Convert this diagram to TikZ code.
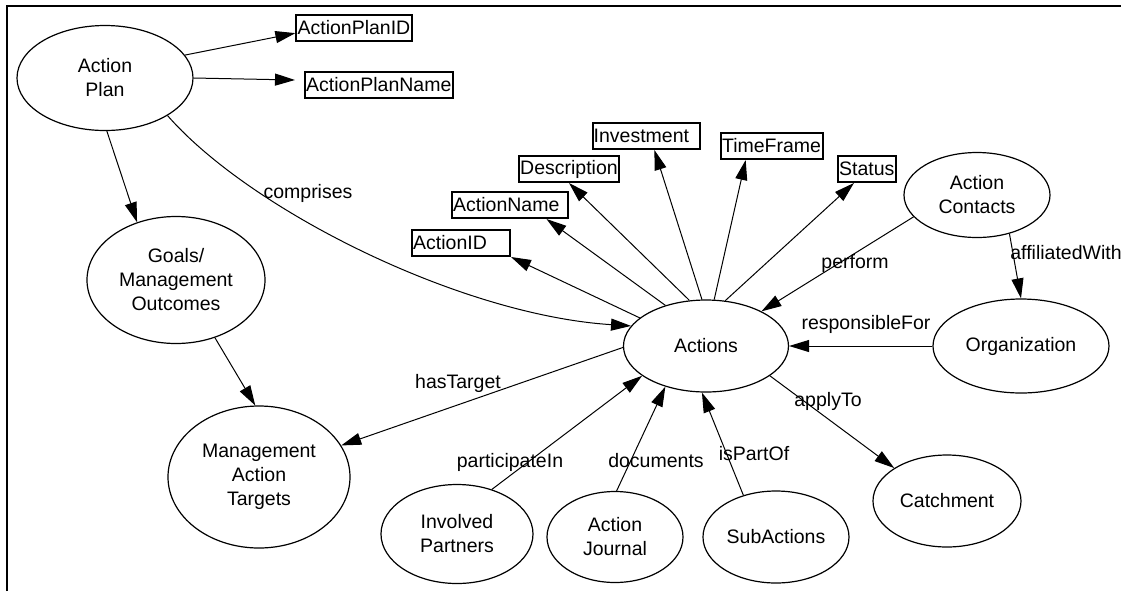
\documentclass[tikz,border=0pt]{standalone}
\usepackage{fontspec}
\setmainfont{Liberation Sans}
\usetikzlibrary{arrows.meta,shapes.geometric}

\begin{document}
\begin{tikzpicture}[x=0.5pt,y=-0.5pt,
	every node/.style={font=\fontsize{9.75}{12}\selectfont},
	cls/.style={draw,ellipse,line width=0.6pt,inner sep=0pt,align=center},
	prop/.style={draw,rectangle,line width=1pt,inner xsep=0.6pt,inner ysep=1pt,minimum height=13pt,align=left},
	lbl/.style={inner sep=0pt},
	edge/.style={line width=0.5pt,-{Triangle[length=10pt,width=6pt]}}]
	\useasboundingbox (0,0) rectangle (1121,591);

	%ramka
	\draw[line width=1pt] (7,591) -- (7,5.5) -- (1121,5.5);

	%klasy
	\node[cls,minimum width=88pt,minimum height=52.5pt] (ap) at (105,78) {Action\\Plan};
	\node[cls,minimum width=89pt,minimum height=63.5pt] (goals) at (176,280) {Goals/\\Management\\Outcomes};
	\node[cls,minimum width=91pt,minimum height=71pt] (mat) at (259,477) {Management\\Action\\Targets};
	\node[cls,minimum width=82.5pt,minimum height=46pt] (act) at (706,346) {Actions};
	\node[cls,minimum width=73pt,minimum height=42.5pt] (ac) at (977,195) {Action\\Contacts};
	\node[cls,minimum width=88pt,minimum height=47pt] (org) at (1021,346) {Organization};
	\node[cls,minimum width=74pt,minimum height=46pt] (catch) at (947,501) {Catchment};
	\node[cls,minimum width=76pt,minimum height=49.5pt] (ip) at (457,534) {Involved\\Partners};
	\node[cls,minimum width=68pt,minimum height=45.5pt] (aj) at (615,537) {Action\\Journal};
	\node[cls,minimum width=73pt,minimum height=46pt] (sub) at (776,537) {SubActions};

	%atrybuty
	\node[prop,text width=56.4pt] (apid) at (354,28) {ActionPlanID};
	\node[prop,text width=72.8pt] (apn) at (379,85) {ActionPlanName};
	\node[prop,text width=47.8pt] (aid) at (461,243) {ActionID};
	\node[prop,text width=56.8pt] (aname) at (510,205) {ActionName};
	\node[prop,text width=48.8pt] (desc) at (569,169) {Description};
	\node[prop,text width=52.3pt] (inv) at (646,136) {Investment};
	\node[prop,text width=49.9pt] (tf) at (772,146) {TimeFrame};
	\node[prop,text width=27.8pt] (st) at (867,169) {Status};

	%krawedzie
	\draw[edge] (ap.16) -- (apid.185);
	\draw[edge] (ap.0) -- ([xshift=-4.5pt,yshift=2.5pt]apn.west);
	\draw[edge] (ap.-88) -- (goals.124);
	\draw[edge] (ap.-31) .. controls (250,210) and (460,315) .. (act.165);
	\draw[edge] (goals.-56) -- (mat.93);
	\draw[edge] (act.181) -- (mat.21);
	\foreach \p/\a/\e in {aid/157/south east, aname/135/-21, desc/110/south,
		inv/95/-59, tf/80/-152, st/67/-133}
		\draw[edge] (act.\a) -- (\p.\e);
	\draw[edge] (ac.199) -- (act.32);
	\draw[edge] (ac.-50) -- (org.90);
	\draw[edge] (org.180) -- (act.0);
	\draw[edge] (act.-25) -- (catch.148);
	\draw[edge] (ip.52) -- (act.205);
	\draw[edge] (aj.88) -- (act.-135);
	\draw[edge] (sub.128) -- (act.-95);

	%etykiety
	\node[lbl] (l-comprises) at (308,193) {comprises};
	\node[lbl] (l-perform) at (855,263) {perform};
	\node[lbl] (l-affiliated) at (1066,253) {affiliatedWith};
	\node[lbl] (l-responsible) at (866,324) {responsibleFor};
	\node[lbl] (l-apply) at (828,401) {applyTo};
	\node[lbl] (l-target) at (458,383) {hasTarget};
	\node[lbl] (l-participate) at (510,462) {participateIn};
	\node[lbl] (l-documents) at (656,461) {documents};
	\node[lbl] (l-partof) at (754,454) {isPartOf};
\end{tikzpicture}
\end{document}
